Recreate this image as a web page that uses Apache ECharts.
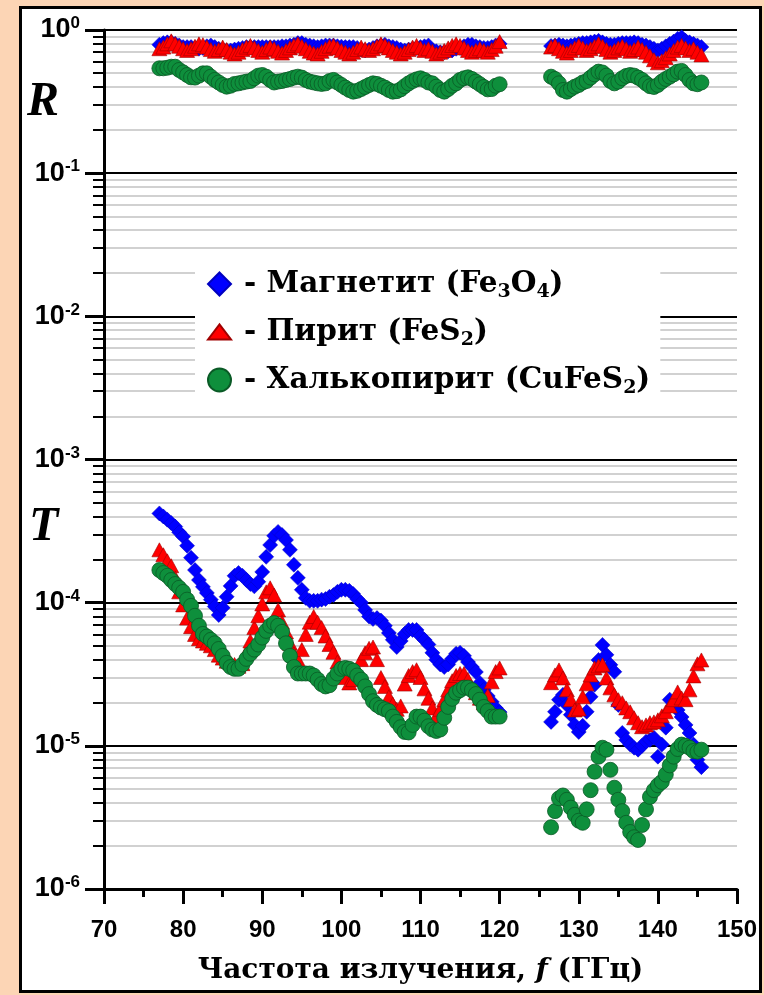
<!DOCTYPE html>
<html><head><meta charset="utf-8">
<script src="https://cdn.jsdelivr.net/npm/echarts@6/dist/echarts.min.js"></script>
<style>
html,body{margin:0;padding:0;background:#FCD5B5;width:764px;height:995px;overflow:hidden;}
#frame{position:absolute;left:19px;top:6px;width:743px;height:987px;box-sizing:border-box;border:3px solid #000;background:#fff;}
#chart{position:absolute;left:0;top:0;width:764px;height:995px;}
</style></head><body><div id="frame"></div><div id="chart"></div>
<script>
// Frequencies (GHz)
const freq1 = [77,77.5,78,78.5,79,79.5,80,80.5,81,81.5,82,82.5,83,83.5,84,84.5,85,85.5,86,86.5,87,87.5,88,88.5,89,89.5,90,90.5,91,91.5,92,92.5,93,93.5,94,94.5,95,95.5,96,96.5,97,97.5,98,98.5,99,99.5,100,100.5,101,101.5,102,102.5,103,103.5,104,104.5,105,105.5,106,106.5,107,107.5,108,108.5,109,109.5,110,110.5,111,111.5,112,112.5,113,113.5,114,114.5,115,115.5,116,116.5,117,117.5,118,118.5,119,119.5,120];
const freq2 = [126.5,127,127.5,128,128.5,129,129.5,130,130.5,131,131.5,132,132.5,133,133.5,134,134.5,135,135.5,136,136.5,137,137.5,138,138.5,139,139.5,140,140.5,141,141.5,142,142.5,143,143.5,144,144.5,145,145.5];

// Reflection R
const magnetiteR1 = [.79,.81,.82,.82,.80,.78,.76,.76,.76,.75,.74,.75,.77,.78,.76,.74,.73,.72,.72,.73,.74,.75,.76,.76,.76,.76,.76,.76,.76,.76,.76,.77,.77,.78,.79,.81,.81,.79,.78,.77,.76,.77,.78,.78,.78,.77,.765,.76,.76,.76,.75,.73,.72,.73,.75,.77,.78,.79,.77,.76,.75,.73,.72,.73,.74,.75,.76,.77,.78,.72,.71,.70,.70,.71,.72,.74,.75,.77,.79,.79,.77,.76,.75,.75,.76,.78,.80];
const magnetiteR2 = [.773,.78,.79,.78,.77,.78,.79,.80,.81,.81,.82,.83,.84,.82,.80,.79,.79,.80,.81,.81,.81,.82,.81,.79,.78,.76,.74,.72,.74,.77,.80,.83,.87,.89,.84,.82,.80,.78,.76];
const pyriteR1 = [.74,.76,.80,.84,.80,.77,.74,.72,.74,.77,.80,.79,.76,.73,.71,.73,.76,.73,.70,.68,.70,.73,.76,.78,.75,.72,.70,.73,.76,.74,.71,.69,.72,.75,.78,.80,.77,.74,.71,.69,.68,.71,.74,.77,.78,.75,.72,.70,.68,.70,.73,.76,.74,.72,.74,.77,.80,.78,.75,.72,.70,.68,.70,.73,.76,.78,.75,.72,.74,.71,.68,.70,.72,.75,.78,.80,.78,.75,.72,.70,.72,.74,.72,.70,.73,.77,.83];
const pyriteR2 = [.76,.78,.74,.71,.69,.72,.75,.78,.75,.72,.74,.77,.80,.77,.73,.70,.72,.75,.77,.74,.71,.73,.76,.73,.70,.66,.62,.59,.61,.64,.68,.72,.76,.78,.75,.72,.74,.70,.67];
const chalcopyriteR1 = [.54,.54,.545,.554,.554,.526,.506,.485,.467,.465,.48,.498,.498,.472,.448,.43,.413,.402,.408,.42,.424,.43,.436,.44,.46,.48,.485,.472,.448,.43,.436,.44,.448,.455,.465,.472,.465,.448,.436,.43,.424,.42,.424,.44,.448,.43,.413,.396,.381,.371,.376,.387,.40,.413,.424,.42,.408,.396,.381,.371,.374,.385,.405,.424,.44,.452,.46,.448,.43,.424,.402,.381,.371,.387,.408,.424,.448,.46,.467,.455,.436,.418,.40,.385,.387,.408,.418];
const chalcopyriteR2 = [.472,.455,.424,.381,.371,.387,.402,.413,.43,.44,.465,.49,.512,.505,.48,.44,.424,.436,.46,.478,.485,.48,.465,.448,.424,.405,.40,.413,.436,.455,.472,.49,.512,.518,.485,.448,.424,.418,.43];

// Transmission T
const magnetiteT1 = [4.2e-4,4.0e-4,3.8e-4,3.6e-4,3.4e-4,3.1e-4,2.9e-4,2.5e-4,2.06e-4,1.69e-4,1.44e-4,1.29e-4,1.17e-4,1.05e-4,9.4e-5,8.2e-5,9.2e-5,1.10e-4,1.31e-4,1.54e-4,1.61e-4,1.54e-4,1.44e-4,1.35e-4,1.3e-4,1.4e-4,1.64e-4,2.09e-4,2.53e-4,2.93e-4,3.12e-4,2.97e-4,2.74e-4,2.34e-4,1.84e-4,1.49e-4,1.23e-4,1.08e-4,1.03e-4,1.03e-4,1.03e-4,1.05e-4,1.06e-4,1.10e-4,1.13e-4,1.19e-4,1.23e-4,1.23e-4,1.21e-4,1.15e-4,1.06e-4,1.00e-4,8.9e-5,8.0e-5,7.7e-5,7.8e-5,7.5e-5,6.9e-5,6.15e-5,5.5e-5,4.9e-5,5.4e-5,6.05e-5,6.45e-5,6.45e-5,6.45e-5,5.85e-5,5.5e-5,5.1e-5,4.46e-5,4.0e-5,3.7e-5,3.55e-5,3.7e-5,4.05e-5,4.4e-5,4.46e-5,4.25e-5,3.85e-5,3.55e-5,3.28e-5,2.75e-5,2.46e-5,2.23e-5,2.03e-5,1.84e-5,1.72e-5];
const magnetiteT2 = [1.47e-5,1.73e-5,2.1e-5,2.27e-5,1.93e-5,1.65e-5,1.4e-5,1.25e-5,1.38e-5,1.73e-5,2.2e-5,2.67e-5,3.98e-5,5.07e-5,4.32e-5,3.68e-5,3.29e-5,1.93e-5,1.23e-5,1.1e-5,1.02e-5,9.7e-6,9.4e-6,1.0e-5,1.07e-5,1.1e-5,1.14e-5,8.4e-6,1.02e-5,1.34e-5,2.1e-5,1.93e-5,1.78e-5,1.59e-5,1.4e-5,1.23e-5,1.02e-5,8.0e-6,7.1e-6];
const pyriteT1 = [2.34e-4,2.16e-4,1.96e-4,1.81e-4,1.49e-4,1.19e-4,9.65e-5,7.8e-5,6.8e-5,6.0e-5,5.6e-5,5.4e-5,5.2e-5,5.0e-5,4.7e-5,4.3e-5,4.1e-5,3.9e-5,3.8e-5,3.7e-5,3.6e-5,3.75e-5,4.5e-5,5.4e-5,6.7e-5,8.1e-5,9.8e-5,1.19e-4,1.27e-4,1.13e-4,8.9e-5,7.3e-5,6.25e-5,5.2e-5,4.4e-5,4.0e-5,4.7e-5,6.0e-5,7.3e-5,8.0e-5,7.3e-5,6.7e-5,5.85e-5,5.1e-5,4.5e-5,3.85e-5,3.3e-5,3.0e-5,2.75e-5,2.9e-5,3.4e-5,4.0e-5,4.46e-5,4.8e-5,4.9e-5,4.0e-5,3.0e-5,2.6e-5,2.2e-5,1.96e-5,1.8e-5,1.9e-5,2.7e-5,3.1e-5,3.3e-5,3.4e-5,3.0e-5,2.5e-5,2.15e-5,1.84e-5,1.6e-5,1.8e-5,2.1e-5,2.46e-5,2.85e-5,3.1e-5,3.2e-5,3.2e-5,2.9e-5,2.55e-5,2.35e-5,2.15e-5,2.0e-5,2.25e-5,2.8e-5,3.3e-5,3.5e-5];
const pyriteT2 = [2.76e-5,3.13e-5,3.39e-5,2.98e-5,2.46e-5,2.1e-5,1.78e-5,1.81e-5,2.2e-5,2.71e-5,3.13e-5,3.5e-5,3.62e-5,3.68e-5,2.98e-5,2.54e-5,2.27e-5,2.1e-5,2.0e-5,1.84e-5,1.73e-5,1.57e-5,1.45e-5,1.36e-5,1.4e-5,1.45e-5,1.47e-5,1.52e-5,1.62e-5,1.73e-5,1.9e-5,2.1e-5,2.38e-5,2.16e-5,2.1e-5,2.46e-5,3.08e-5,3.74e-5,3.98e-5];
const chalcopyriteT1 = [1.69e-4,1.61e-4,1.54e-4,1.44e-4,1.35e-4,1.27e-4,1.19e-4,1.05e-4,9.5e-5,8.1e-5,6.9e-5,6.05e-5,5.8e-5,5.5e-5,5.2e-5,4.75e-5,4.25e-5,3.8e-5,3.55e-5,3.45e-5,3.45e-5,3.7e-5,4.05e-5,4.4e-5,4.7e-5,5.1e-5,5.7e-5,6.35e-5,6.9e-5,7.2e-5,6.9e-5,6.25e-5,5.2e-5,4.25e-5,3.55e-5,3.2e-5,3.2e-5,3.2e-5,3.2e-5,3.1e-5,2.9e-5,2.7e-5,2.6e-5,2.65e-5,2.95e-5,3.2e-5,3.45e-5,3.5e-5,3.45e-5,3.35e-5,3.1e-5,2.9e-5,2.6e-5,2.3e-5,2.05e-5,1.93e-5,1.85e-5,1.8e-5,1.75e-5,1.6e-5,1.47e-5,1.35e-5,1.25e-5,1.24e-5,1.4e-5,1.6e-5,1.6e-5,1.5e-5,1.37e-5,1.3e-5,1.27e-5,1.3e-5,1.57e-5,1.87e-5,2.13e-5,2.35e-5,2.45e-5,2.55e-5,2.55e-5,2.45e-5,2.3e-5,2.1e-5,1.87e-5,1.75e-5,1.6e-5,1.6e-5,1.6e-5];
const chalcopyriteT2 = [2.7e-6,3.5e-6,4.3e-6,4.5e-6,4.2e-6,3.7e-6,3.3e-6,3.0e-6,2.9e-6,3.6e-6,4.9e-6,6.6e-6,8.4e-6,9.7e-6,9.4e-6,6.8e-6,5.1e-6,4.2e-6,3.5e-6,2.9e-6,2.5e-6,2.3e-6,2.2e-6,2.8e-6,3.6e-6,4.4e-6,4.9e-6,5.3e-6,5.6e-6,6.3e-6,7.3e-6,8.4e-6,9.5e-6,1.02e-5,1.0e-5,9.7e-6,9.2e-6,9.1e-6,9.4e-6];

// Axis ticks
const xTicks = [70,80,90,100,110,120,130,140,150];
const yDecades = [1e-6,1e-5,1e-4,1e-3,1e-2,1e-1,1];
const yMinorMultipliers = [2,3,4,5,6,7,8,9];
const yMinor = [];
yDecades.slice(0, -1).forEach(d => yMinorMultipliers.forEach(m => yMinor.push(+(m * d).toPrecision(3))));

const seriesNames = ['Магнетит', 'Пирит', 'Халькопирит'];
const legendLabels = {
  'Магнетит': '{d|- Магнетит (Fe}{s|3}{t|O}{s|4}{t|)}',
  'Пирит': '{d|- Пирит (FeS}{s|2}{t|)}',
  'Халькопирит': '{d|- Халькопирит (CuFeS}{s|2}{t|)}'
};

function pts(f, v) { return f.map((x, i) => [x, v[i]]); }

const SERIF = '"DejaVu Serif","Liberation Serif",serif';
const SANS = '"Liberation Sans",Arial,sans-serif';

const chart = echarts.init(document.getElementById('chart'), null, {renderer: 'canvas'});
chart.setOption({
  animation: false,
  backgroundColor: 'transparent',
  grid: {left: 104, right: 27, top: 30, bottom: 106, containLabel: false, outerBoundsMode: 'none'},
  xAxis: {
    type: 'value', min: 70, max: 150, interval: 10,
    axisLine: {show: true, onZero: false, lineStyle: {color: '#000', width: 3}},
    axisTick: {show: true, inside: false, length: 15, lineStyle: {color: '#000', width: 3}},
    minorTick: {show: true, splitNumber: 2, length: 8, lineStyle: {color: '#000', width: 3}},
    splitLine: {show: false},
    minorSplitLine: {show: false},
    axisLabel: {show: true, margin: 29, color: '#000', fontFamily: SANS, fontWeight: 'bold', fontSize: 24,
      customValues: xTicks},
    name: '{a|Частота излучения, }{i|f}{a| (ГГц)}',
    nameLocation: 'middle', nameGap: 68,
    nameTextStyle: {rich: {
      a: {fontFamily: SERIF, fontWeight: 'bold', fontSize: 28, color: '#000'},
      i: {fontFamily: SERIF, fontWeight: 'bold', fontStyle: 'italic', fontSize: 28, color: '#000'}
    }}
  },
  yAxis: [{
    type: 'log', logBase: 10, min: 1e-6, max: 1, position: 'left',
    axisLine: {show: true, lineStyle: {color: '#000', width: 3}},
    axisTick: {show: true, inside: false, length: 19, customValues: yDecades, lineStyle: {color: '#000', width: 3}},
    axisLabel: {show: true, margin: 24, customValues: yDecades,
      formatter: v => '{b|10}{s|' + Math.round(Math.log10(v)) + '}',
      rich: {
        b: {fontFamily: SANS, fontWeight: 'bold', fontSize: 27, color: '#000', lineHeight: 30},
        s: {fontFamily: SANS, fontWeight: 'bold', fontSize: 17, color: '#000', verticalAlign: 'top', lineHeight: 18}
      }},
    splitLine: {show: true, lineStyle: {color: '#000', width: 2}},
    minorTick: {show: false}, minorSplitLine: {show: false}
  }, {
    type: 'log', logBase: 10, min: 1e-6, max: 1, position: 'left',
    axisLine: {show: false},
    axisTick: {show: true, inside: false, length: 11, customValues: yMinor, lineStyle: {color: '#000', width: 2}},
    axisLabel: {show: false},
    splitLine: {show: true, lineStyle: {color: '#c2c2c2', width: 1.5}},
    minorTick: {show: false}, minorSplitLine: {show: false}
  }],
  legend: {
    orient: 'vertical', left: 195, top: 261,
    padding: [8, 10, 8, 12], backgroundColor: '#fff',
    itemWidth: 23, itemHeight: 23, itemGap: 15,
    data: [
      {name: seriesNames[0], icon: 'diamond'},
      {name: seriesNames[1], icon: 'path://M0,15L11.5,0L23,15Z'},
      {name: seriesNames[2], icon: 'circle'}
    ],
    formatter: n => legendLabels[n],
    textStyle: {rich: {
      d: {fontFamily: SERIF, fontWeight: 'bold', fontSize: 29.5, color: '#000', lineHeight: 36, padding: [0, 0, 0, 8]},
      t: {fontFamily: SERIF, fontWeight: 'bold', fontSize: 29.5, color: '#000', lineHeight: 36},
      s: {fontFamily: SERIF, fontWeight: 'bold', fontSize: 19, color: '#000', lineHeight: 19, verticalAlign: 'bottom'}
    }}
  },
  graphic: [
    {type: 'text', left: 27, top: 79, style: {text: 'R', font: 'italic bold 48px "Liberation Serif"', fill: '#000'}},
    {type: 'text', left: 29, top: 504, style: {text: 'T', font: 'italic bold 48px "Liberation Serif"', fill: '#000'}}
  ],
  series: [
    {name: seriesNames[0], type: 'scatter', symbol: 'diamond', symbolSize: 15,
      itemStyle: {color: '#0000FF', borderColor: '#0000C0', borderWidth: 0.5, opacity: 1},
      data: pts(freq1, magnetiteR1).concat(pts(freq2, magnetiteR2), pts(freq1, magnetiteT1), pts(freq2, magnetiteT2))},
    {name: seriesNames[1], type: 'scatter', symbol: 'triangle', symbolSize: [15, 14],
      itemStyle: {color: '#FF0000', borderColor: '#A00000', borderWidth: 0.6, opacity: 1},
      data: pts(freq1, pyriteR1).concat(pts(freq2, pyriteR2), pts(freq1, pyriteT1), pts(freq2, pyriteT2))},
    {name: seriesNames[2], type: 'scatter', symbol: 'circle', symbolSize: 15,
      itemStyle: {color: '#0E8F3C', borderColor: '#0A5A26', borderWidth: 0.8, opacity: 1},
      data: pts(freq1, chalcopyriteR1).concat(pts(freq2, chalcopyriteR2), pts(freq1, chalcopyriteT1), pts(freq2, chalcopyriteT2))}
  ]
});
</script></body></html>
